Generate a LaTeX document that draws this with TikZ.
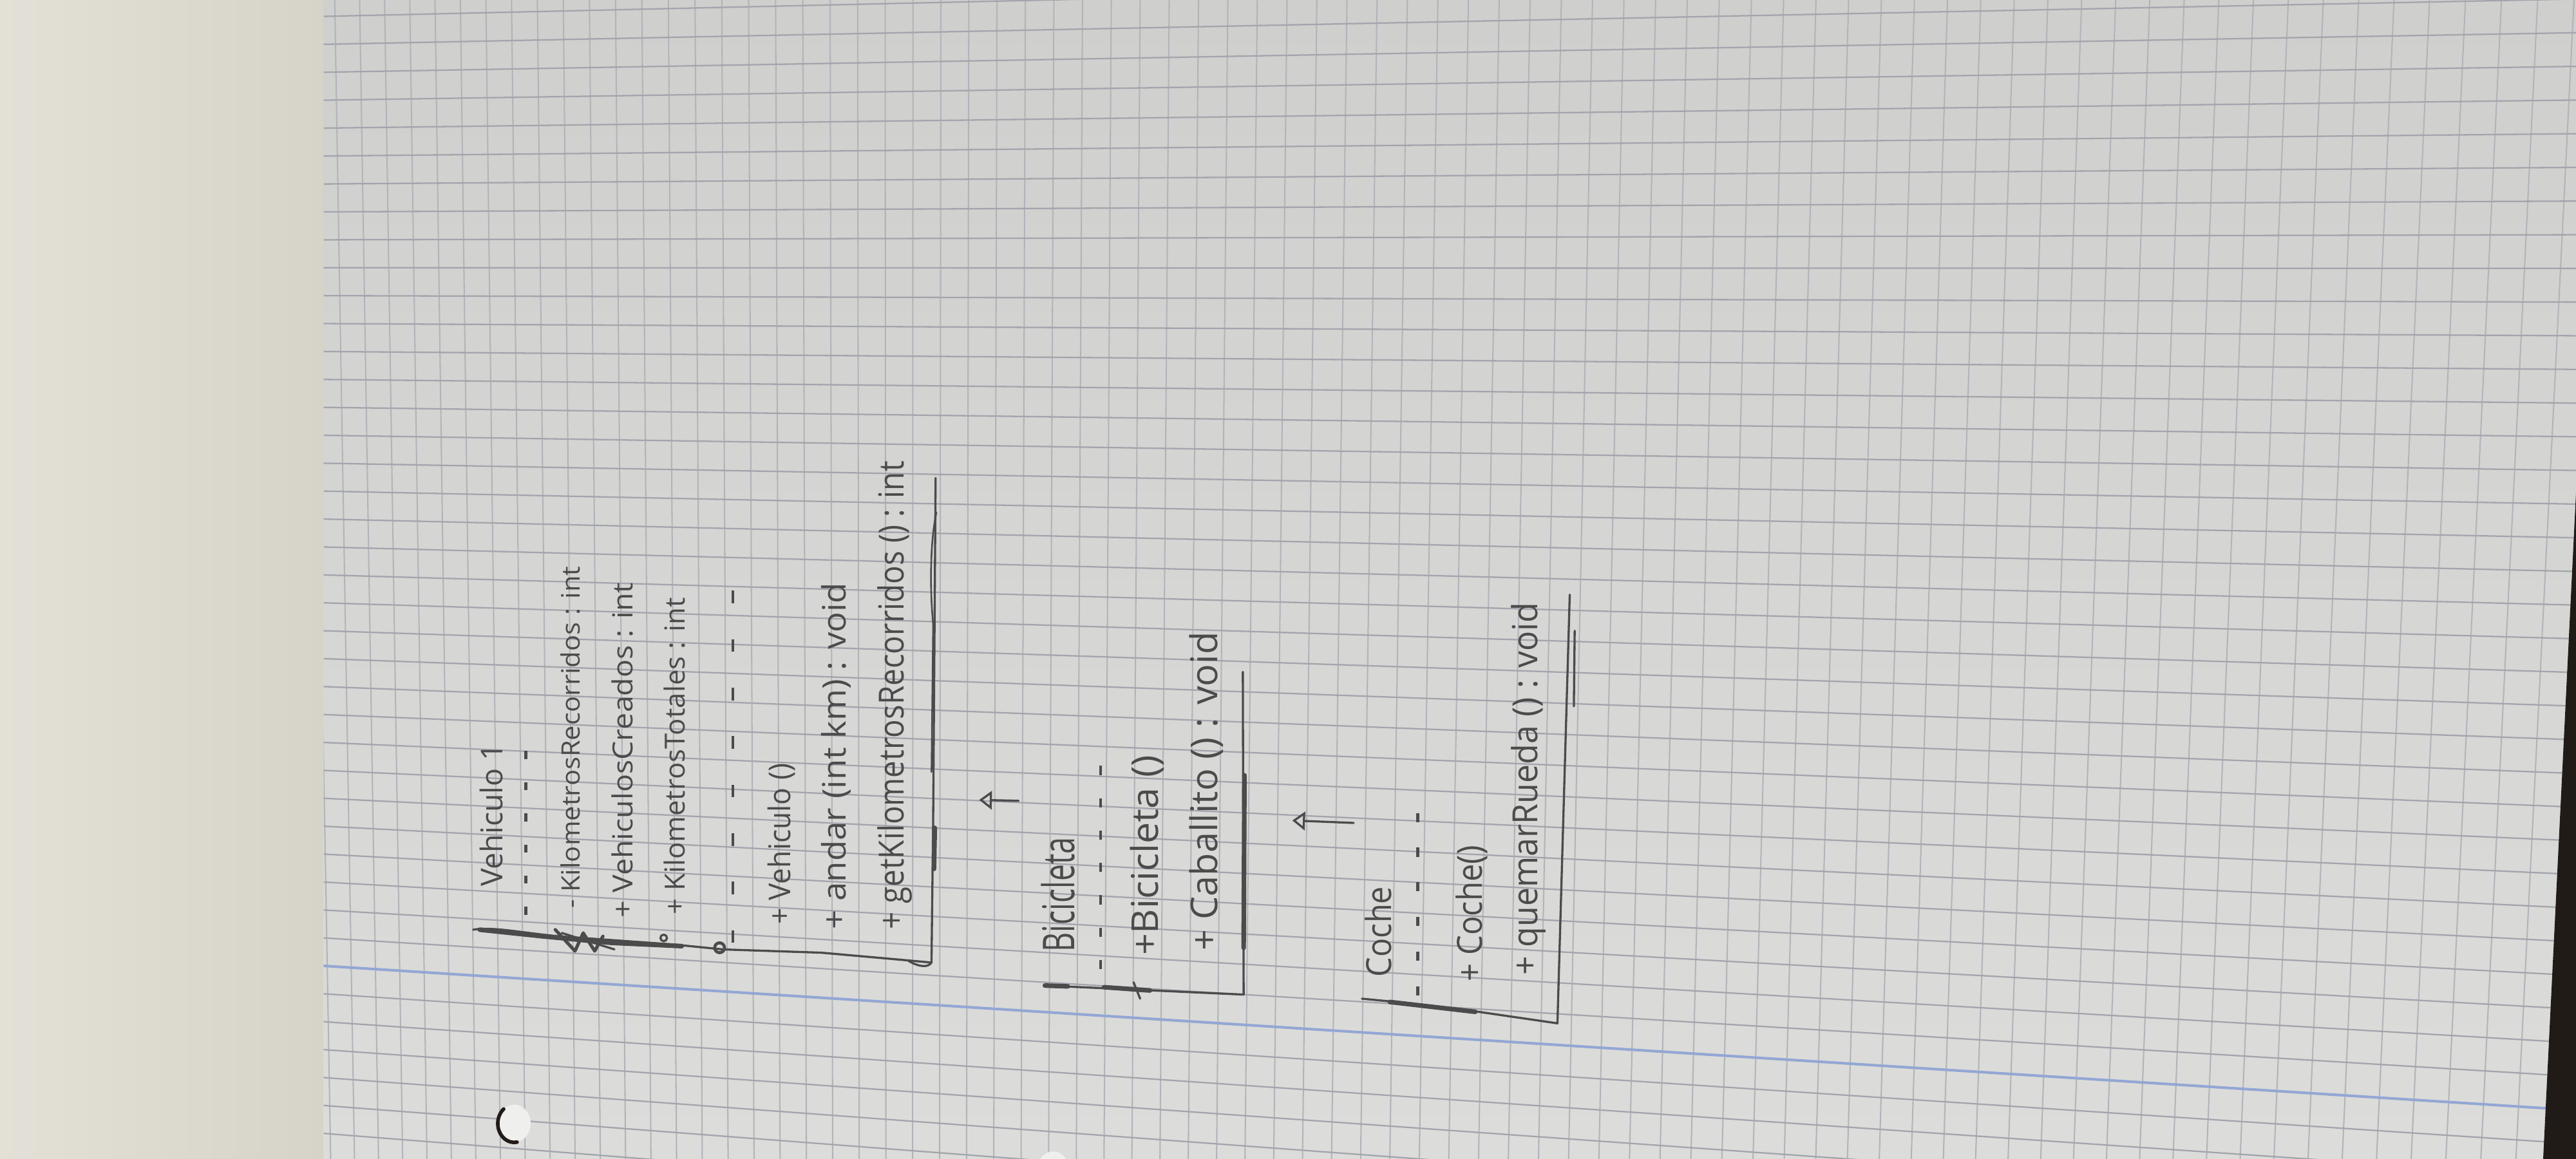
\documentclass[tikz,border=0pt]{standalone}
\usepackage{fontspec}
\usepackage{graphicx}
\usetikzlibrary{arrows.meta}
\newfontfamily\handfont{Open Sans}
\newlength\du
\setlength\du{0.025cm}
\definecolor{desk}{HTML}{E3E1D7}
\definecolor{deskshade}{HTML}{D6D4C8}
\definecolor{papertop}{HTML}{CFCFCD}
\definecolor{paperbot}{HTML}{DCDCDA}
\definecolor{gridh}{HTML}{A3A5AC}
\definecolor{gridv}{HTML}{B2B4BA}
\definecolor{margin}{HTML}{93A7D4}
\definecolor{pencil}{HTML}{4B4B4B}
\definecolor{cornerdark}{HTML}{211B17}
\definecolor{hole}{HTML}{EFEFED}
% squeeze a line of writing to a given length, keeping its height
\newcommand\hw[2]{\resizebox{#1\du}{\height}{#2}}
\newcommand\fs[1]{\fontsize{#1}{#1}\selectfont}

\begin{document}
\begin{tikzpicture}[x=0.025cm, y=-0.025cm,
  pen/.style={draw=pencil, line width=1.3\du, line cap=round, line join=round},
  heavy/.style={pen, line width=2.8\du},
  hand/.style={text=pencil, inner sep=0pt, anchor=base west, rotate=90, font=\handfont},
  sepline/.style={pen, line width=1.7\du, line cap=butt},
  genarrow/.style={pen, -{Triangle[open, length=5.5pt, width=8pt]}}
]
\useasboundingbox (0,0) rectangle (1568,705.6);

% desk surface
\shade[left color=desk, right color=deskshade] (0,0) rectangle (197,705.6);

% squared paper
\shade[top color=papertop, bottom color=paperbot] (197,0) rectangle (1568,705.6);
\begin{scope}
  \clip (197,0) rectangle (1568,705.6);
  % vertical rulings, widening to the right
  \foreach \k in {0,...,78} {
    \pgfmathsetmacro\xm{2837*exp(0.0052*\k)-2642}
    \pgfmathsetmacro\xt{\xm+0.0177*(\xm-550)}
    \pgfmathsetmacro\xb{\xm-0.0177*(\xm-550)}
    \draw[gridv, line width=0.8\du] (\xt,0) -- (\xb,705.6);
  }
  % horizontal rulings, converging far to the left
  \foreach \k in {-36,...,8} {
    \pgfmathsetmacro\yl{588+17*\k}
    \pgfmathsetmacro\yr{161+(\yl-161)*1.2058}
    \draw[gridh, line width=0.9\du] (197,\yl) -- (1568,\yr);
  }
  % margin line
  \draw[margin, line width=1.6\du] (197,588) -- (1568,675.9);
\end{scope}

% punched holes
\fill[hole] (313,684) ellipse [x radius=10, y radius=11.5];
\draw[cornerdark, line width=2.2\du, line cap=round]
  (313,684) ++(80:10 and 11.5) arc [start angle=80, end angle=230, x radius=10, y radius=11.5];
\fill[hole] (641,713) ellipse [x radius=10, y radius=12];

% dark edge beyond the sheet
\fill[cornerdark] (1568,300) -- (1568,705.6) -- (1548,705.6) -- cycle;

% ---------- class Vehiculo ----------
\coordinate (vTL) at (288,566);
\coordinate (vBL) at (567,586);
\coordinate (vBR) at (569.5,291);
\draw[pen] (vTL) .. controls (300,564) and (318,568) .. (340,570)
  -- (410,575) -- (440,578) -- (500,580) -- (545,584) -- (vBL);
\draw[pen] (vBL) -- (568,500) -- (vBR);
\draw[heavy] (292,566) -- (330,570) -- (372,574) -- (415,576);
\draw[pen, line width=2\du] (338,566) -- (350,579) -- (355,568) -- (362,579) -- (367,570);
\draw[pen] (342,568) -- (374,578);
\draw[pen] (404,571) circle [radius=2];
\draw[pen, line width=1.8\du] (438,577) circle [radius=3];
\draw[pen] (553,585) .. controls (560,589) and (565,589) .. (vBL);
\draw[pen, line width=1\du] (570,312) .. controls (566,330) and (566,360) .. (568,380) -- (567,470);
\draw[heavy] (569,504) -- (568.5,529);

\node[hand] (vName) at (306,540) {\fs{13}\hw{87}{Vehiculo 1}};
\coordinate (d1a) at (320,557);
\coordinate (d1b) at (320,444);
\draw[sepline, dash pattern=on 3.5pt off 10pt] (d1a) -- (d1b);
\node[hand] (vAttrA) at (353,553) {\fs{11}\hw{208}{- KilometrosRecorridos : int}};
\node[hand] (vAttrB) at (385,559) {\fs{12}\hw{204}{+ VehiculosCreados : int}};
\node[hand] (vAttrC) at (417,557) {\fs{12}\hw{193}{+ KilometrosTotales : int}};
\coordinate (d2a) at (446,574);
\coordinate (d2b) at (446,355);
\draw[sepline, dash pattern=on 5.5pt off 15.5pt] (d2a) -- (d2b);
\node[hand] (vOpA) at (481,563) {\fs{13}\hw{98}{+ Vehiculo ()}};
\node[hand] (vOpB) at (515,566) {\fs{14}\hw{211}{+ andar (int km) : void}};
\node[hand] (vOpC) at (550,566) {\fs{15}\hw{285}{+ getKilometrosRecorridos () : int}};

% generalisation Bicicleta -> Vehiculo
\coordinate (g1s) at (620,487.5);
\coordinate (g1t) at (596,487);
\draw[genarrow] (g1s) -- (g1t);

% ---------- class Bicicleta ----------
\coordinate (bTL) at (636,600);
\coordinate (bBL) at (757,605.5);
\coordinate (bBR) at (756.5,409);
\draw[pen] (bTL) -- (680,602) -- (bBL) -- (bBR);
\draw[heavy] (636,600) -- (650,600.5);
\draw[heavy] (672,601) -- (700,603);
\draw[pen] (690,598) -- (694,608);
\draw[heavy] (757.5,472) -- (757,577);

\node[hand] (bName) at (654,580) {\fs{19}\hw{70}{Bicicleta}};
\coordinate (d3a) at (670,590);
\coordinate (d3b) at (670,466);
\draw[sepline, dash pattern=on 4pt off 10pt] (d3a) -- (d3b);
\node[hand] (bOpA) at (705,582) {\fs{16}\hw{122}{+Bicicleta ()}};
\node[hand] (bOpB) at (741,579) {\fs{16}\hw{194}{+ Caballito () : void}};

% generalisation Coche -> Bicicleta
\coordinate (g2s) at (824,501);
\coordinate (g2t) at (786.6,499.5);
\draw[genarrow] (g2s) -- (g2t);

% ---------- class Coche ----------
\coordinate (cTL) at (829,608);
\coordinate (cBL) at (948,623);
\coordinate (cBR) at (955.5,362);
\draw[pen] (cTL) -- (860,611) -- (900,616) -- (cBL) -- (cBR);
\draw[heavy] (846,610) -- (898,616);
\draw[pen] (958.5,384) -- (958,430);

\node[hand] (cName) at (847,595) {\fs{15}\hw{55}{Coche}};
\coordinate (d4a) at (863,606);
\coordinate (d4b) at (863,490);
\draw[sepline, dash pattern=on 4pt off 11pt] (d4a) -- (d4b);
\node[hand] (cOpA) at (902,598) {\fs{15}\hw{83}{+ Coche()}};
\node[hand] (cOpB) at (936,594) {\fs{15}\hw{227}{+ quemarRueda () : void}};
\end{tikzpicture}
\end{document}
